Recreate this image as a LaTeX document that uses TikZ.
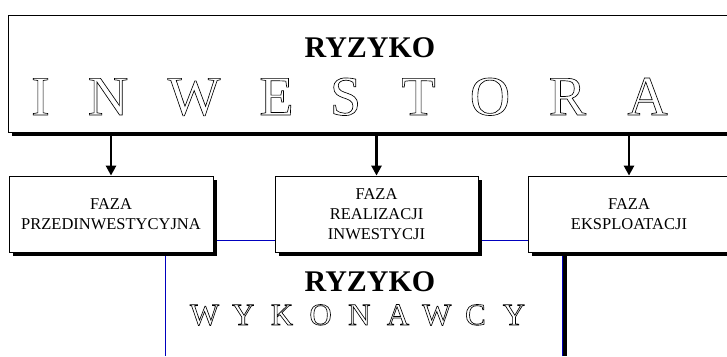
\documentclass[tikz,border=0pt]{standalone}
\usepackage{fontspec}
\setmainfont{Liberation Serif}
\usetikzlibrary{arrows.meta,shadows}
\newcommand\outl[1]{\special{pdf:literal direct 0.65 w 1 Tr}#1\special{pdf:literal direct 0 Tr}}
\definecolor{navy}{RGB}{0,0,190}
\tikzset{
  box/.style={draw, line width=0.8pt, fill=white, minimum height=76pt, inner sep=0pt,
    drop shadow={shadow xshift=4pt, shadow yshift=-4pt, fill=black, opacity=1}},
  boxtext/.style={align=center, font=\fontsize{16.5}{20}\selectfont, inner sep=0pt},
  bigtitle/.style={font=\fontsize{30}{30}\selectfont\bfseries, anchor=base, inner sep=0pt},
  bigletter/.style={font=\fontsize{56}{56}\selectfont, anchor=base, inner sep=0pt},
  midletter/.style={font=\fontsize{31}{31}\selectfont, anchor=base, inner sep=0pt},
  arr/.style={line width=2.6pt, -{Triangle[width=10pt,length=10pt]}},
  blueline/.style={draw=navy, line width=1pt}
}
\begin{document}
\begin{tikzpicture}[x=1pt,y=-1pt]
\useasboundingbox (0,0) rectangle (727,356);
\clip (0,0) rectangle (727,356);
% top box
\node[draw, line width=0.8pt, fill=white, minimum width=760pt, minimum height=117pt, inner sep=0pt,
  drop shadow={shadow xshift=4pt, shadow yshift=-3pt, fill=black, opacity=1}] (top) at (388,74.2) {};
\node[bigtitle] (r1) at (370,57) {RYZYKO};
\foreach \l/\x [count=\i] in {I/40.5,N/108,W/194,E/276.5,S/345.5,T/418.5,O/490,R/567.5,A/647.5}
  \node[bigletter] (inv\i) at (\x,115) {\outl{\l}};
% phase boxes
\node[box, minimum width=204pt] (box1) at (111,214) {};
\node[boxtext] (lab1) at (box1) {FAZA\\PRZEDINWESTYCYJNA};
\node[box, minimum width=203pt] (box2) at (376.5,214) {};
\node[boxtext] (lab2) at (box2) {FAZA\\REALIZACJI\\INWESTYCJI};
\node[box, minimum width=240pt] (box3) at (648,214) {};
\node[boxtext] (lab3) at (629,214) {FAZA\\EKSPLOATACJI};
% arrows
\draw[arr] (top.south -| lab1) -- (box1.north -| lab1);
\draw[arr] (top.south -| box2) -- (box2.north);
\draw[arr] (top.south -| lab3) -- (box3.north -| lab3);
% blue connectors
\draw[blueline] ([xshift=4pt,yshift=-26pt]box1.east) -- ([yshift=-26pt]box2.west);
\draw[blueline] ([xshift=4pt,yshift=-26pt]box2.east) -- ([yshift=-26pt]box3.west);
\coordinate (b1) at (165,356);
\coordinate (b2) at (565,356);
\draw[blueline] ([yshift=-4pt]box1.south -| b1) -- (b1);
\draw[line width=4pt] ([yshift=-4pt]box3.south -| b2) -- (b2);
\draw[draw=navy, line width=1pt] ([xshift=-2.5pt,yshift=-4pt]box3.south -| b2) -- ([xshift=-2.5pt]b2);
% lower title
\node[bigtitle] (r2) at (370,291) {RYZYKO};
\foreach \l/\x [count=\i] in {W/204.5,Y/243.2,K/281.9,O/320.6,N/359.3,A/398,W/436.7,C/475.4,Y/514}
  \node[midletter] (wyk\i) at (\x,325) {\outl{\l}};
\end{tikzpicture}
\end{document}
